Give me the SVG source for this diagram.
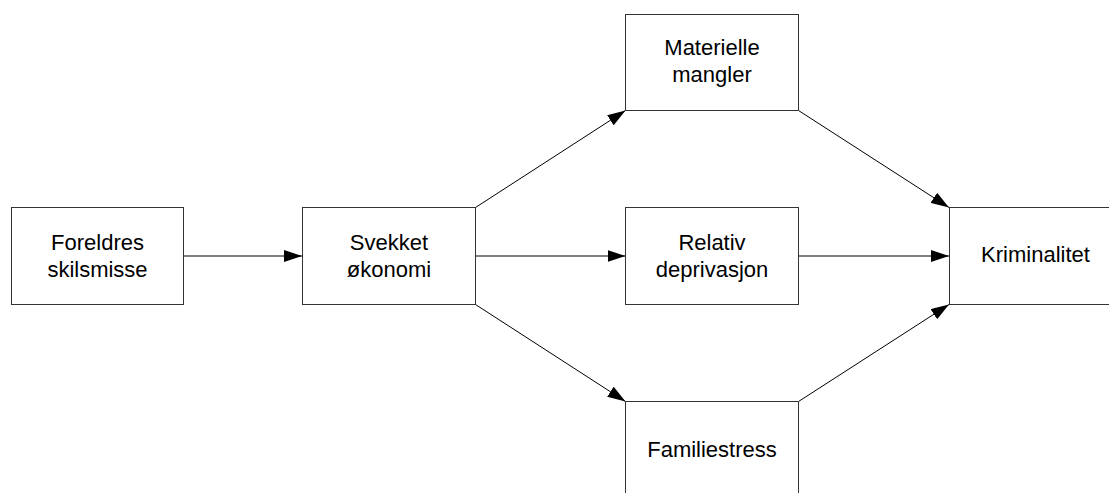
<svg xmlns="http://www.w3.org/2000/svg" width="1109" height="493" viewBox="0 0 1109 493">
<style>
.box{fill:#fff;stroke:#333;stroke-width:1}
.lbl{font-family:"Liberation Sans",Arial,sans-serif;font-size:22px;fill:#000;text-anchor:middle}
.edge{stroke:#000;stroke-width:1;fill:none;marker-end:url(#arr)}
</style>
<defs>
<marker id="arr" markerUnits="userSpaceOnUse" markerWidth="18" markerHeight="12" refX="18" refY="6" orient="auto">
<path d="M0,0 L18,6 L0,12 z" fill="#000"/>
</marker>
</defs>
<rect width="1109" height="493" fill="#fff"/>
<g id="connectors">
<line class="edge" x1="183.5" y1="256" x2="302" y2="256"/>
<line class="edge" x1="475.5" y1="256" x2="625.5" y2="256"/>
<line class="edge" x1="798.5" y1="256" x2="949" y2="256"/>
<line class="edge" x1="475.5" y1="207.5" x2="625.5" y2="110.5"/>
<line class="edge" x1="475.5" y1="304.5" x2="625.5" y2="401.5"/>
<line class="edge" x1="798.5" y1="110.5" x2="949" y2="207.5"/>
<line class="edge" x1="798.5" y1="401.5" x2="949" y2="304.5"/>
</g>
<g id="foreldres">
<rect class="box" x="11.5" y="207.5" width="172" height="97"/>
<text class="lbl" x="97.5" y="250">Foreldres</text>
<text class="lbl" x="97.5" y="277">skilsmisse</text>
</g>
<g id="svekket">
<rect class="box" x="302.5" y="207.5" width="173" height="97"/>
<text class="lbl" x="389" y="250">Svekket</text>
<text class="lbl" x="389" y="277">økonomi</text>
</g>
<g id="materielle">
<rect class="box" x="625.5" y="14.5" width="173" height="96"/>
<text class="lbl" x="712" y="55">Materielle</text>
<text class="lbl" x="712" y="82">mangler</text>
</g>
<g id="relativ">
<rect class="box" x="625.5" y="207.5" width="173" height="97"/>
<text class="lbl" x="712" y="250">Relativ</text>
<text class="lbl" x="712" y="277">deprivasjon</text>
</g>
<g id="familiestress">
<rect class="box" x="625.5" y="401.5" width="173" height="100"/>
<text class="lbl" x="712" y="457">Familiestress</text>
</g>
<g id="kriminalitet">
<rect class="box" x="949.5" y="207.5" width="172" height="97"/>
<text class="lbl" x="1035.5" y="262">Kriminalitet</text>
</g>
</svg>
